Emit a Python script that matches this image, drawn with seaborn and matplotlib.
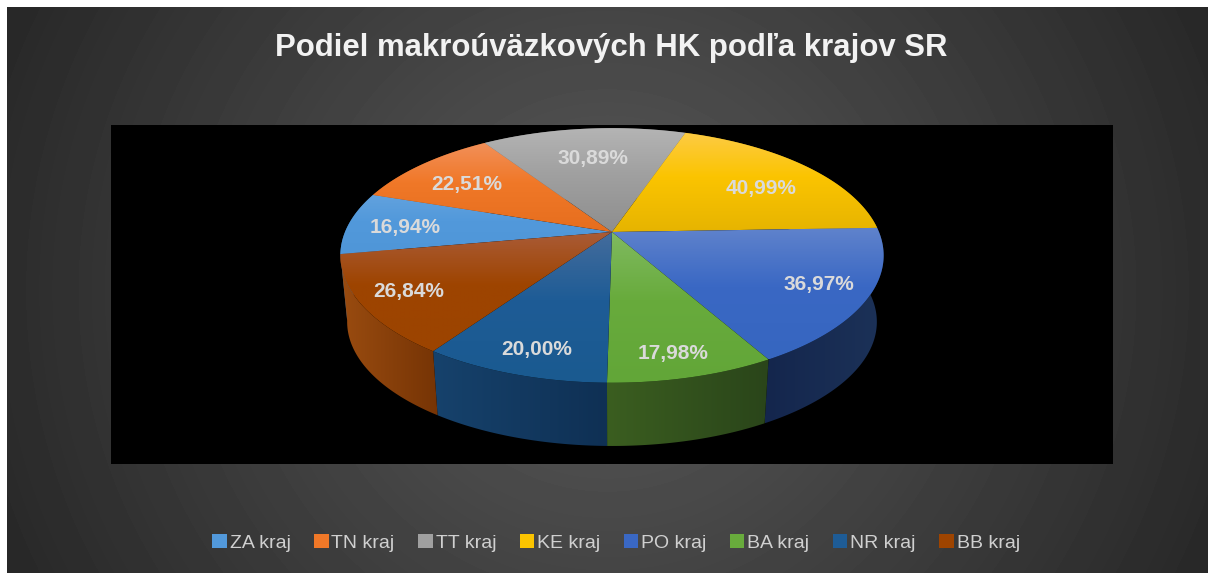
import numpy as np
import seaborn as sns
import matplotlib
matplotlib.use("Agg")
import matplotlib.pyplot as plt
from matplotlib.colors import LinearSegmentedColormap
from matplotlib.patches import Patch, Polygon, Rectangle

title = "Podiel makroúväzkových HK podľa krajov SR"
regions = ["ZA kraj", "TN kraj", "TT kraj", "KE kraj", "PO kraj", "BA kraj", "NR kraj", "BB kraj"]
shares = [16.94, 22.51, 30.89, 40.99, 36.97, 17.98, 20.00, 26.84]

base_colors = ["#5299DB", "#F07828", "#A0A0A0", "#FBC400", "#3A68C4", "#68AB3C", "#1E5C96", "#9E4400"]
top_colors = ["#62A2DE", "#F2905A", "#B4B4B4", "#FDCB45", "#6083CC", "#80BA60", "#446C9C", "#AA5C38"]
low_colors = ["#4F96D8", "#E66E1E", "#8E8E8E", "#E6B400", "#3666C0", "#62A638", "#1A5A90", "#9C4400"]
wall_left = ["#3A6E9E", "#A85418", "#707070", "#A88400", "#14264D", "#3B5E20", "#16426C", "#9A4C10"]
wall_right = ["#2A5A88", "#8C4410", "#606060", "#907000", "#1C3258", "#2A451A", "#0F3054", "#763405"]

# where each percentage sits: fraction of the radius, degrees off the slice middle
label_radius = [0.78, 0.72, 0.68, 0.71, 0.82, 0.86, 0.85, 0.83]
label_turn = [1.9, 2.1, -0.6, -4.1, 0.7, -1.4, 1.3, -0.1]

# pie geometry in figure pixels, perspective tilt
CX, CY = 612, 232
SX, SY, TILT = 267, 123, 0.184
BOTTOM_SCALE, BOTTOM_DROP = 0.975, 67


def project(angle, radius=1.0, bottom=False):
    """Tilted pie: angle in degrees on the disc to pixel position."""
    a = np.radians(angle)
    x, y = radius * np.cos(a), radius * np.sin(a)
    w = 1 + TILT * y
    px, py = SX * x / w, SY * y / w
    if bottom:
        return np.column_stack([CX + BOTTOM_SCALE * px, CY + BOTTOM_DROP - BOTTOM_SCALE * py])
    return np.column_stack([CX + px, CY - py])


def gradient_fill(ax, xy, stops, zorder, vertical=True):
    poly = Polygon(xy, closed=True, fc="none", ec="none", transform=ax.transData, zorder=zorder)
    ax.add_patch(poly)
    x0, y0 = xy.min(axis=0)
    x1, y1 = xy.max(axis=0)
    ramp = np.linspace(0, 1, 256)
    ramp = ramp.reshape(-1, 1) if vertical else ramp.reshape(1, -1)
    cmap = LinearSegmentedColormap.from_list("fill", stops)
    im = ax.imshow(ramp, cmap=cmap, extent=(x0, x1, y1, y0), aspect="auto",
                   interpolation="bilinear", zorder=zorder)
    im.set_clip_path(poly)


sns.set_theme(style="white")
plt.rcParams["font.family"] = ["Liberation Sans", "DejaVu Sans"]
palette = sns.color_palette(base_colors)

fig = plt.figure(figsize=(12.08, 5.73), dpi=100, facecolor="white")
ax = fig.add_axes([0, 0, 1, 1])

wedges, _ = ax.pie(shares, colors=palette, startangle=190, counterclock=False)

# radial grey background of the chart area
yy, xx = np.mgrid[7:573, 7:1208]
shade = (90 - 0.076 * np.hypot(xx - 607, yy - 290)) / 255
ax.imshow(shade, cmap="gray", vmin=0, vmax=1, extent=(7, 1208, 573, 7), aspect="auto", zorder=0)
ax.add_patch(Rectangle((111, 125), 1002, 339, fc="black", ec="none", zorder=1))

for i, wedge in enumerate(wedges):
    wedge.set_visible(False)
    angles = np.linspace(wedge.theta1, wedge.theta2, 240)
    rim = project(angles)
    side = np.vstack([rim, project(angles, bottom=True)[::-1]])
    gradient_fill(ax, side, [wall_left[i], wall_right[i]], 2, vertical=False)

for i, wedge in enumerate(wedges):
    angles = np.linspace(wedge.theta1, wedge.theta2, 240)
    face = np.vstack([[CX, CY], project(angles)])
    stops = [(0, top_colors[i]), (0.45, base_colors[i]), (1, low_colors[i])]
    gradient_fill(ax, face, stops, 3)

    mid = (wedge.theta1 + wedge.theta2) / 2 + label_turn[i]
    lx, ly = project(np.array([mid]), label_radius[i])[0]
    ax.text(lx, ly, f"{shares[i]:.2f}%".replace(".", ","), ha="center", va="center", zorder=4,
            color="#DADADA", fontsize=15, fontweight="bold")

ax.text(611, 48, title, ha="center", va="center", color="#F2F2F2", fontsize=22.4,
        fontweight="bold", zorder=4)

handles = [Patch(facecolor=c, edgecolor="none", label=r) for c, r in zip(base_colors, regions)]
ax.legend(handles=handles, ncols=8, loc="center", bbox_to_anchor=(616, 543),
          bbox_transform=ax.transData, frameon=False, fontsize=14, labelcolor="#D0D0D0",
          handlelength=0.75, handleheight=0.75, handletextpad=0.15, columnspacing=1.2)

ax.set_xlim(0, 1208)
ax.set_ylim(573, 0)
ax.set_aspect("auto")
ax.axis("off")

fig.savefig("out.png", dpi=100, facecolor="white")
